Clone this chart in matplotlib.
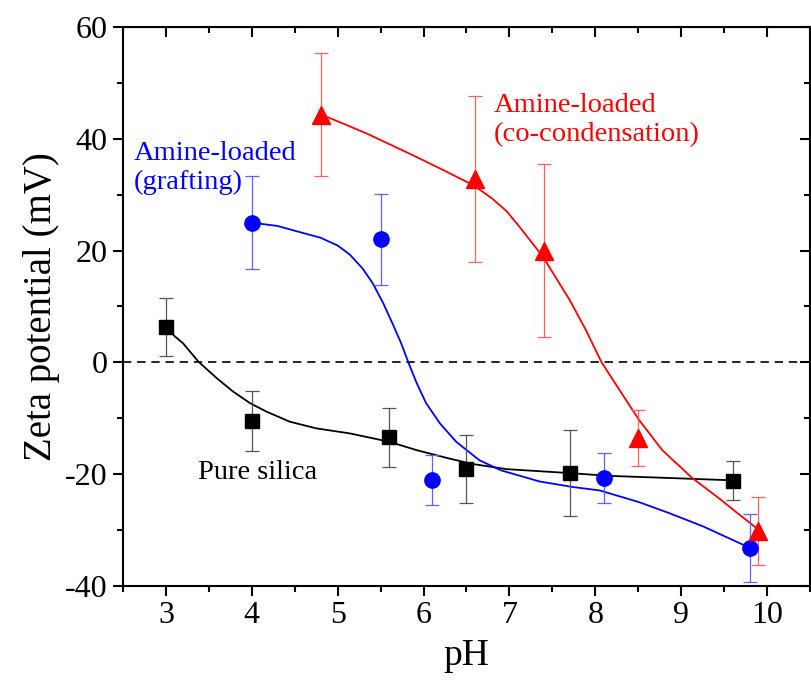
import matplotlib
matplotlib.use("Agg")
import matplotlib.pyplot as plt
from matplotlib.ticker import MultipleLocator

plt.rcParams['font.family'] = ['Liberation Serif', 'DejaVu Serif']
plt.rcParams['axes.unicode_minus'] = False

# measured points (pH, zeta potential, error)
silica_ph = [3.0, 4.0, 5.6, 6.5, 7.7, 9.6]
silica_zeta = [6.4, -10.5, -13.4, -19.1, -19.8, -21.2]
silica_err = [5.2, 5.4, 5.3, 6.1, 7.7, 3.5]

graft_ph = [4.0, 5.5, 6.1, 8.1, 9.8]
graft_zeta = [25.0, 22.0, -21.0, -20.7, -33.2]
graft_err = [8.3, 8.2, 4.5, 4.5, 6.1]

cocond_ph = [4.8, 6.6, 7.4, 8.5, 9.9]
cocond_zeta = [44.3, 32.8, 20.0, -13.5, -30.2]
cocond_err = [11.0, 14.9, 15.5, 5.0, 6.1]

# fitted curves
silica_fit_ph = [3.0, 3.1, 3.2, 3.38, 3.59, 3.78, 3.98, 4.17, 4.44, 4.75, 5.14, 5.6,
                 5.92, 6.3, 6.58, 6.97, 7.7, 8.16, 8.9, 9.6]
silica_fit_zeta = [6.4, 4.7, 3.4, 0.1, -2.8, -5.2, -7.3, -8.8, -10.6, -11.8, -12.7, -14.2,
                   -15.7, -17.2, -18.2, -19.1, -19.8, -20.3, -20.7, -21.1]

graft_fit_ph = [4.0, 4.3, 4.56, 4.8, 5.0, 5.14, 5.29, 5.41, 5.53, 5.64, 5.74, 5.82, 5.92,
                6.03, 6.19, 6.38, 6.65, 6.9, 7.35, 7.74, 8.05, 8.51, 8.85, 9.25, 9.79]
graft_fit_zeta = [25.0, 24.4, 23.3, 22.3, 20.9, 19.3, 16.8, 14.1, 10.6, 6.9, 3.4, 0.1,
                  -3.7, -7.3, -10.9, -14.2, -17.5, -19.3, -21.3, -22.3, -22.9, -25.0,
                  -26.9, -29.3, -33.1]

cocond_fit_ph = [4.8, 4.91, 5.33, 5.91, 6.19, 6.58, 6.8, 6.97, 7.12, 7.39, 7.7, 7.89,
                 8.07, 8.28, 8.51, 8.78, 9.13, 9.44, 9.65, 9.9]
cocond_fit_zeta = [44.3, 43.7, 41.0, 36.8, 34.7, 31.7, 29.3, 27.0, 24.2, 18.9, 11.2, 5.8,
                   0.1, -4.9, -10.3, -15.7, -20.7, -24.3, -26.9, -29.9]

fig = plt.figure(figsize=(8.11, 6.81), dpi=100)
ax = fig.add_axes([0.1517, 0.1395, 0.847, 0.8209])

ax.axhline(0, color="black", lw=1.2, ls=(0, (5, 3.5)), zorder=1)

ax.plot(silica_fit_ph, silica_fit_zeta, color="black", lw=1.3, zorder=2)
ax.plot(graft_fit_ph, graft_fit_zeta, color="#0000ff", lw=1.3, zorder=2)
ax.plot(cocond_fit_ph, cocond_fit_zeta, color="#ff0000", lw=1.3, zorder=2)

ebar = dict(ls="none", elinewidth=0.9, capsize=4.7, capthick=0.9)
ax.errorbar(silica_ph, silica_zeta, yerr=silica_err, ecolor="#555555", **ebar, zorder=3)
ax.errorbar(graft_ph, graft_zeta, yerr=graft_err, ecolor="#6060ff", **ebar, zorder=3)
ax.errorbar(cocond_ph, cocond_zeta, yerr=cocond_err, ecolor="#ff6060", **ebar, zorder=3)

ax.plot(silica_ph, silica_zeta, "s", color="black", ms=10, zorder=4)
ax.plot(graft_ph, graft_zeta, "o", color="#0000ff", ms=11, zorder=4)
ax.plot(cocond_ph, cocond_zeta, "^", color="#ff0000", ms=13, zorder=4)

ax.text(2.62, 39.6, "Amine-loaded\n(grafting)", color="#0000ff", fontsize=20.5,
        va="top", ha="left", linespacing=1.2)
ax.text(6.82, 48.1, "Amine-loaded\n(co-condensation)", color="#ff0000", fontsize=20.5,
        va="top", ha="left", linespacing=1.2)
ax.text(3.37, -17.4, "Pure silica", color="black", fontsize=20.5, va="top", ha="left")

ax.set_xlim(2.5, 10.5)
ax.set_ylim(-40, 60)
ax.xaxis.set_major_locator(MultipleLocator(1))
ax.xaxis.set_minor_locator(MultipleLocator(0.5))
ax.yaxis.set_major_locator(MultipleLocator(20))
ax.yaxis.set_minor_locator(MultipleLocator(10))

for s in ax.spines.values():
    s.set_linewidth(1.5)
ax.tick_params(which="both", direction="out", width=1.5, labelsize=23, pad=4)
ax.tick_params(which="major", length=7)
ax.tick_params(which="minor", length=4)

# top and right ticks point inward
sec_x = ax.secondary_xaxis("top")
sec_x.xaxis.set_major_locator(MultipleLocator(1))
sec_x.xaxis.set_minor_locator(MultipleLocator(0.5))
sec_x.tick_params(which="both", direction="in", width=1.5, labeltop=False)
sec_x.tick_params(which="major", length=7)
sec_x.tick_params(which="minor", length=4)
sec_y = ax.secondary_yaxis("right")
sec_y.yaxis.set_major_locator(MultipleLocator(20))
sec_y.yaxis.set_minor_locator(MultipleLocator(10))
sec_y.tick_params(which="both", direction="in", width=1.5, labelright=False)
sec_y.tick_params(which="major", length=7)
sec_y.tick_params(which="minor", length=4)

ax.set_xlabel("pH", fontsize=27, labelpad=6)
ax.set_ylabel("Zeta potential (mV)", fontsize=28, labelpad=4)

fig.savefig("out.png", dpi=100)
